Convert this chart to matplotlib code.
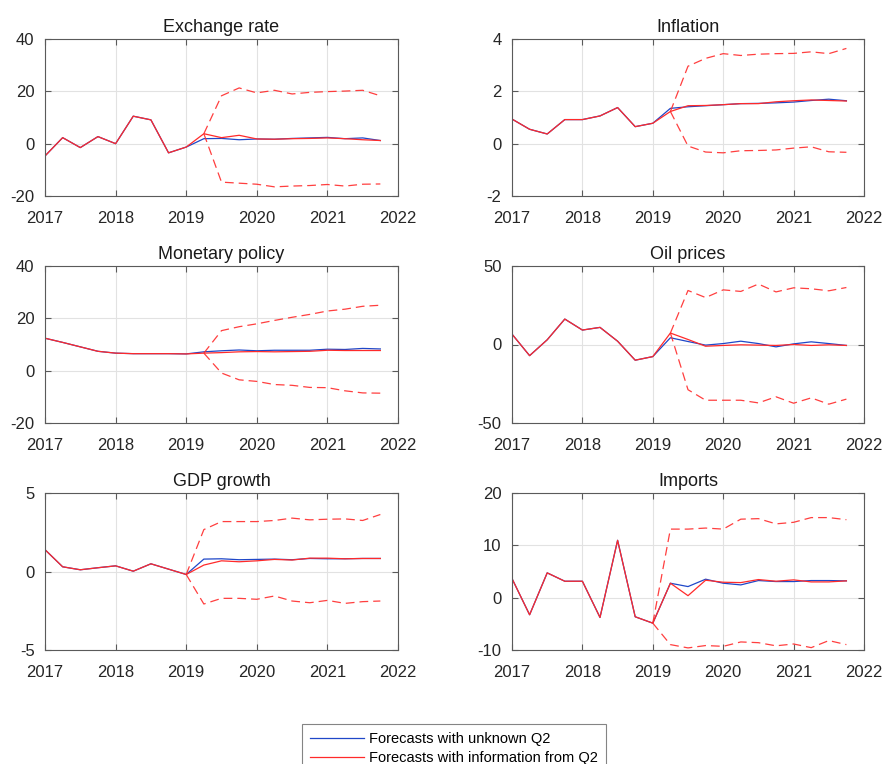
import numpy as np
import matplotlib
matplotlib.use("Agg")
import matplotlib.pyplot as plt

plt.rcParams['font.family'] = ['Liberation Sans', 'DejaVu Sans']
plt.rcParams['axes.unicode_minus'] = False

# quarterly dates 2017Q1 .. 2021Q4
quarters = 2017 + np.arange(20) / 4.0
n_hist = 9  # 2017Q1 .. 2019Q1

titles = ["Exchange rate", "Inflation", "Monetary policy", "Oil prices", "GDP growth", "Imports"]

# history (2017.00 .. 2019.00)
hist_exch = [-4.7, 2.3, -1.5, 2.7, 0.0, 10.5, 9.1, -3.5, -1.3]
hist_infl = [0.94, 0.55, 0.37, 0.92, 0.92, 1.06, 1.38, 0.65, 0.78]
hist_mon = [12.4, 10.8, 9.1, 7.4, 6.7, 6.5, 6.5, 6.5, 6.4]
hist_oil = [6.6, -7.1, 3.0, 16.2, 9.2, 10.9, 2.1, -10.0, -7.7]
hist_gdp = [1.39, 0.30, 0.11, 0.24, 0.36, 0.02, 0.49, 0.15, -0.19]
hist_imp = [3.65, -3.27, 4.74, 3.14, 3.14, -3.78, 10.96, -3.65, -4.87]

# forecasts with unknown Q2 (2019.25 .. 2021.75)
blue_exch = [1.9, 2.0, 1.5, 1.8, 1.7, 2.0, 2.2, 2.4, 1.9, 2.2, 1.2]
blue_infl = [1.35, 1.41, 1.45, 1.49, 1.53, 1.54, 1.56, 1.59, 1.65, 1.70, 1.64]
blue_mon = [7.2, 7.6, 7.9, 7.6, 7.8, 7.8, 7.8, 8.2, 8.1, 8.5, 8.3]
blue_oil = [4.3, 1.9, -0.4, 0.6, 2.1, 0.6, -1.5, 0.4, 1.7, 0.6, -0.6]
blue_gdp = [0.79, 0.81, 0.75, 0.77, 0.79, 0.75, 0.83, 0.81, 0.81, 0.83, 0.83]
blue_imp = [2.76, 2.12, 3.53, 2.76, 2.44, 3.27, 3.08, 3.08, 3.27, 3.27, 3.21]

# forecasts with information from Q2
red_exch = [3.8, 2.3, 3.2, 1.8, 1.7, 1.9, 2.0, 2.2, 1.9, 1.5, 1.2]
red_infl = [1.23, 1.45, 1.46, 1.49, 1.53, 1.53, 1.60, 1.64, 1.67, 1.65, 1.63]
red_mon = [6.7, 6.9, 7.2, 7.3, 7.2, 7.3, 7.4, 7.8, 7.7, 7.7, 7.7]
red_oil = [7.3, 3.2, -1.1, -0.6, -0.2, -0.4, -0.6, 0.0, -0.6, -0.2, -0.6]
red_gdp = [0.41, 0.68, 0.62, 0.68, 0.77, 0.73, 0.85, 0.85, 0.81, 0.83, 0.83]
red_imp = [2.76, 0.38, 3.33, 2.95, 2.88, 3.46, 3.14, 3.40, 3.01, 3.01, 3.21]

# bands (2019.00 .. 2021.75), nan where the band is not drawn
nan = np.nan
up_exch = [nan, 3.8, 18.3, 21.3, 19.4, 20.4, 19.0, 19.6, 19.9, 20.1, 20.4, 18.3]
lo_exch = [nan, 3.8, -14.7, -15.1, -15.5, -16.5, -16.2, -16.0, -15.6, -16.2, -15.5, -15.4]
up_infl = [nan, 1.23, 2.96, 3.26, 3.44, 3.37, 3.42, 3.44, 3.45, 3.51, 3.44, 3.64]
lo_infl = [nan, 1.23, -0.09, -0.32, -0.35, -0.27, -0.26, -0.24, -0.17, -0.12, -0.31, -0.33]
up_mon = [nan, 6.7, 15.3, 16.8, 17.9, 19.2, 20.4, 21.5, 22.8, 23.5, 24.6, 25.0]
lo_mon = [nan, 6.7, -0.9, -3.5, -4.1, -5.3, -5.6, -6.4, -6.5, -7.7, -8.5, -8.6]
up_oil = [nan, 7.3, 34.4, 29.9, 34.8, 33.8, 38.5, 33.5, 36.1, 35.5, 34.2, 36.3]
lo_oil = [nan, 7.3, -28.8, -35.5, -35.5, -35.5, -37.2, -33.3, -37.4, -34.0, -38.0, -34.8]
up_gdp = [-0.19, 2.67, 3.18, 3.18, 3.18, 3.25, 3.40, 3.29, 3.33, 3.35, 3.25, 3.63]
lo_gdp = [-0.19, -2.07, -1.71, -1.71, -1.77, -1.56, -1.88, -1.99, -1.84, -2.03, -1.92, -1.88]
up_imp = [-4.87, 13.1, 13.1, 13.3, 13.1, 15.0, 15.1, 14.1, 14.4, 15.3, 15.3, 14.9]
lo_imp = [-4.87, -8.97, -9.6, -9.15, -9.3, -8.46, -8.6, -9.2, -8.85, -9.55, -8.2, -8.97]

hists = [hist_exch, hist_infl, hist_mon, hist_oil, hist_gdp, hist_imp]
blues = [blue_exch, blue_infl, blue_mon, blue_oil, blue_gdp, blue_imp]
reds = [red_exch, red_infl, red_mon, red_oil, red_gdp, red_imp]
ups = [up_exch, up_infl, up_mon, up_oil, up_gdp, up_imp]
los = [lo_exch, lo_infl, lo_mon, lo_oil, lo_gdp, lo_imp]

ylims = [(-20, 40), (-2, 4), (-20, 40), (-50, 50), (-5, 5), (-10, 20)]
yticks = [[-20, 0, 20, 40], [-2, 0, 2, 4], [-20, 0, 20, 40], [-50, 0, 50], [-5, 0, 5], [-10, 0, 10, 20]]

blue_c = '#1f47c8'
red_c = '#ff2a2a'
axis_c = '#5a5a5a'

fig = plt.figure(figsize=(8.82, 7.64), dpi=100)
lefts = [45 / 882, 512 / 882]
widths = [353 / 882, 352 / 882]
bottoms = [1 - 196 / 764, 1 - 423 / 764, 1 - 650 / 764]
h = 157 / 764

lines_for_legend = None
for i in range(6):
    r, c = divmod(i, 2)
    ax = fig.add_axes([lefts[c], bottoms[r], widths[c], h])
    blue_full = list(hists[i]) + list(blues[i])
    red_full = list(hists[i]) + list(reds[i])
    lb, = ax.plot(quarters, blue_full, color=blue_c, lw=0.9)
    lr, = ax.plot(quarters, red_full, color=red_c, lw=0.9)
    fq = quarters[n_hist - 1:]
    ax.plot(fq, ups[i], color=red_c, lw=0.9, ls=(0, (7, 4)), alpha=0.9)
    ax.plot(fq, los[i], color=red_c, lw=0.9, ls=(0, (7, 4)), alpha=0.9)
    if lines_for_legend is None:
        lines_for_legend = [lb, lr]

    ax.set_xlim(2017, 2022)
    ax.set_ylim(*ylims[i])
    ax.set_xticks([2017, 2018, 2019, 2020, 2021, 2022])
    ax.set_yticks(yticks[i])
    ax.grid(True, color='#e2e2e2', lw=0.8)
    ax.set_axisbelow(True)
    ax.tick_params(direction='in', top=True, right=True, length=4, width=0.8,
                   colors=axis_c, labelsize=12, labelcolor='#262626')
    ax.tick_params(axis='x', pad=10.5)
    ax.tick_params(axis='y', pad=7.5)
    for s in ax.spines.values():
        s.set_color(axis_c)
        s.set_linewidth(0.8)
    ax.set_title(titles[i], fontsize=13, color='#1a1a1a', pad=5)

leg = fig.legend(lines_for_legend,
                 ['Forecasts with unknown Q2', 'Forecasts with information from Q2'],
                 loc='upper center', bbox_to_anchor=(0.5147, 0.0525), fontsize=10.5,
                 frameon=True, fancybox=False, edgecolor='#666666',
                 handlelength=3.7, handletextpad=0.35, borderpad=0.55,
                 labelspacing=0.38, borderaxespad=0)
leg.get_frame().set_linewidth(0.8)

fig.savefig('out.png', dpi=100)
